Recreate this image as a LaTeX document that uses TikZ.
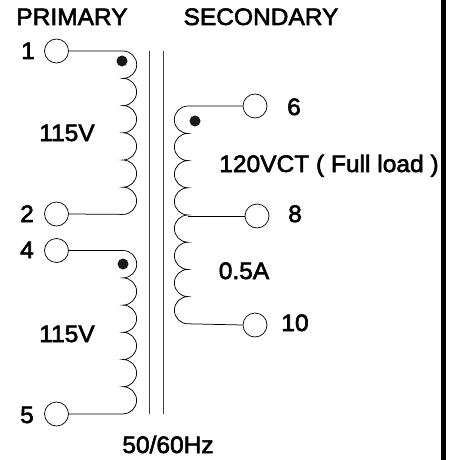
\documentclass[tikz,border=0pt]{standalone}
\usepackage{fontspec}
\setmainfont{Liberation Sans}
\newfontfamily\boldish[FakeBold=2.5,FakeStretch=1.03]{Liberation Sans}
\tikzset{
  px/.style={x=1pt,y=-1pt},
  terminal/.style={circle,draw=black,line width=0.7pt,minimum size=24pt,inner sep=0pt,fill=white},
  coilwire/.style={draw=black,line width=0.75pt},
  coreline/.style={draw=black!75,line width=0.9pt},
  lbl/.style={inner sep=0pt,anchor=base,font=\boldish\fontsize{23.8}{26}\selectfont},
  dotmark/.style={circle,fill=black!90,minimum size=11pt,inner sep=0pt},
  barstyle/.style={fill=black,draw=none}
}
\begin{document}
\begin{tikzpicture}[px]
\useasboundingbox (0,0) rectangle (459,460);
% right frame bar
\fill[barstyle] (441,0) rectangle (446,460);
% core
\coordinate (coreAtop) at (149.5,51);
\coordinate (coreAbot) at (149.5,414);
\coordinate (coreBtop) at (163.5,51);
\coordinate (coreBbot) at (163.5,414);
\draw[coreline] (coreAtop) -- (coreAbot);
\draw[coreline] (coreBtop) -- (coreBbot);
% terminals
\node[terminal] (t1) at (56.5,51) {};
\node[terminal] (t2) at (56.5,214) {};
\node[terminal] (t4) at (56.5,250.5) {};
\node[terminal] (t5) at (56.5,414) {};
\node[terminal] (t6) at (255,106) {};
\node[terminal] (t8) at (257,216) {};
\node[terminal] (t10) at (255,325) {};
% primary coils
\draw[coilwire] (t1.east) -- (123,51)
  arc[start angle=-90,end angle=90,radius=13.7]
  arc[start angle=-90,end angle=90,radius=13.6]
  arc[start angle=-90,end angle=90,radius=13.6]
  arc[start angle=-90,end angle=90,radius=13.6]
  arc[start angle=-90,end angle=90,radius=13.6]
  arc[start angle=-90,end angle=90,radius=13.6]
  -- (t2.east);
\draw[coilwire] (t4.east) -- (123,250.5)
  arc[start angle=-90,end angle=90,radius=13.7]
  arc[start angle=-90,end angle=90,radius=13.6]
  arc[start angle=-90,end angle=90,radius=13.6]
  arc[start angle=-90,end angle=90,radius=13.6]
  arc[start angle=-90,end angle=90,radius=13.6]
  arc[start angle=-90,end angle=90,radius=13.6]
  -- (t5.east);
% secondary coil
\draw[coilwire] (t6.west) -- (188,106)
  arc[start angle=-90,end angle=-270,radius=13.7]
  arc[start angle=-90,end angle=-270,radius=13.6]
  arc[start angle=-90,end angle=-270,radius=13.6]
  arc[start angle=-90,end angle=-270,radius=13.6]
  arc[start angle=-90,end angle=-270,radius=13.6]
  arc[start angle=-90,end angle=-270,radius=13.6]
  arc[start angle=-90,end angle=-270,radius=13.6]
  arc[start angle=-90,end angle=-270,radius=13.6]
  -- (t10.west);
\coordinate (tap) at (188,216);
\draw[coilwire] (tap) -- (t8.west);
% dots
\node[dotmark] (d1) at (122,61) {};
\node[dotmark] (d2) at (123,264) {};
\node[dotmark] (d3) at (195,121) {};
% labels
\node[lbl] (primary) at (72,25) {PRIMARY};
\node[lbl] (secondary) at (261,25) {SECONDARY};
\node[lbl] (n1) at (28,59) {1};
\node[lbl] (n2) at (27,222) {2};
\node[lbl] (n4) at (27,258) {4};
\node[lbl] (n5) at (27,423) {5};
\node[lbl] (n6) at (294,115) {6};
\node[lbl] (n8) at (295,222) {8};
\node[lbl] (n10) at (295,331) {10};
\node[lbl] (v1) at (67,141) {115V};
\node[lbl] (v2) at (67,342) {115V};
\node[lbl] (vct) at (329,172) {120VCT ( Full load )};
\node[lbl] (amp) at (244,279) {0.5A};
\node[lbl] (hz) at (168,453) {50/60Hz};
\end{tikzpicture}
\end{document}
